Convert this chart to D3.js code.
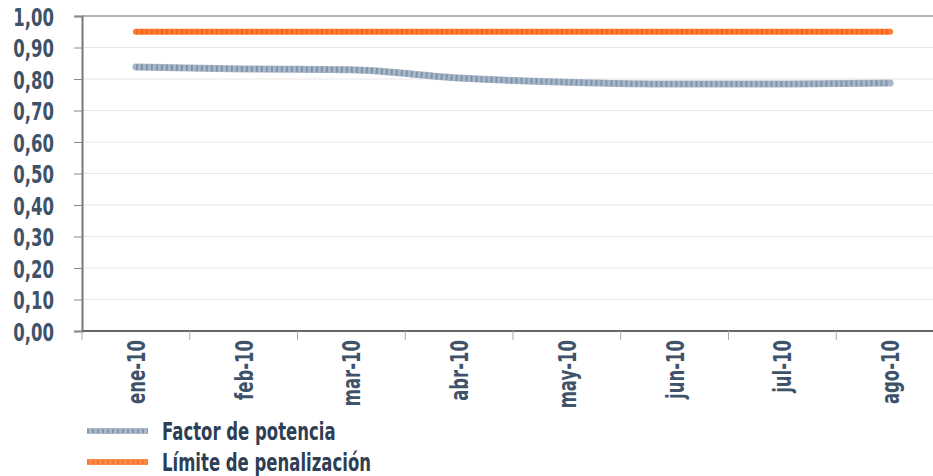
<!DOCTYPE html>
<html>
<head>
<meta charset="utf-8">
<script src="https://cdn.jsdelivr.net/npm/d3@7"></script>
<style>
  html, body { margin: 0; padding: 0; background: #fff; }
  svg { display: block; }
  text { font-family: "DejaVu Sans", sans-serif; font-weight: bold; }
</style>
</head>
<body>
<svg id="chart" width="933" height="476"></svg>
<script>
// Monthly data
const months = ["ene-10", "feb-10", "mar-10", "abr-10", "may-10", "jun-10", "jul-10", "ago-10"];
const factorPotencia = [0.838, 0.832, 0.829, 0.803, 0.790, 0.784, 0.784, 0.787];
const limitePenalizacion = [0.95, 0.95, 0.95, 0.95, 0.95, 0.95, 0.95, 0.95];
const yTicks = [0, 0.1, 0.2, 0.3, 0.4, 0.5, 0.6, 0.7, 0.8, 0.9, 1.0];
const seriesNames = ["Factor de potencia", "Límite de penalización"];

const svg = d3.select("#chart");
const plotLeft = 82, plotRight = 944, plotTop = 16, plotBottom = 331;
const textColor = "#3e5369";
const fontSize = 25, squeeze = 0.66;   // tall, condensed lettering

const x = d3.scaleBand().domain(months).range([plotLeft, plotRight]);
const y = d3.scaleLinear().domain([0, 1]).range([plotBottom, plotTop]);

const defs = svg.append("defs");
const f = defs.append("filter").attr("id", "soft")
  .attr("filterUnits", "userSpaceOnUse")
  .attr("x", 0).attr("y", 0).attr("width", 933).attr("height", 476);
f.append("feGaussianBlur").attr("stdDeviation", 0.5);

// grid lines
svg.append("g").selectAll("line").data(yTicks.filter(d => d > 0)).join("line")
  .attr("x1", plotLeft).attr("x2", 933)
  .attr("y1", d => y(d)).attr("y2", d => y(d))
  .attr("stroke", d => d === 1 ? "#9a9a9a" : "#e6e6e6")
  .attr("stroke-width", d => d === 1 ? 1.5 : 1);

// y axis
const yAxis = d3.axisLeft(y).tickValues(yTicks).tickSize(8).tickFormat("");
const gy = svg.append("g").attr("transform", `translate(${plotLeft},0)`).call(yAxis);
gy.select(".domain").attr("stroke", "#777").attr("stroke-width", 2);
gy.selectAll(".tick line").attr("stroke", "#888");
gy.selectAll(".tick").append("text")
  .attr("transform", `translate(-28,0) scale(${squeeze},1)`)
  .attr("dy", "0.36em")
  .attr("text-anchor", "end")
  .attr("fill", textColor).attr("font-size", fontSize)
  .text(d => d3.format(".2f")(d).replace(".", ","));

// x axis (ticks on category boundaries)
svg.append("line").attr("x1", plotLeft).attr("x2", 933).attr("y1", plotBottom).attr("y2", plotBottom)
  .attr("stroke", "#666").attr("stroke-width", 2);
svg.append("g").selectAll("line").data(months).join("line")
  .attr("x1", d => x(d)).attr("x2", d => x(d))
  .attr("y1", plotBottom).attr("y2", plotBottom + 9)
  .attr("stroke", "#aaa");
svg.append("g").selectAll("text").data(months).join("text")
  .attr("transform", d => `translate(${x(d) + x.bandwidth() / 2 + 9},${plotBottom + 9}) rotate(-90) scale(${squeeze},1)`)
  .attr("text-anchor", "end")
  .attr("fill", textColor).attr("font-size", fontSize)
  .text(d => d);

// series lines
const line = d3.line()
  .x((d, i) => x(months[i]) + x.bandwidth() / 2)
  .y(d => y(d))
  .curve(d3.curveMonotoneX);

function texturedLine(values, base, dash, width) {
  const g = svg.append("g").attr("filter", "url(#soft)");
  g.append("path").attr("d", line(values)).attr("fill", "none")
    .attr("stroke", base).attr("stroke-width", width).attr("stroke-linecap", "round");
  g.append("path").attr("d", line(values)).attr("fill", "none")
    .attr("stroke", dash).attr("stroke-width", width - 1)
    .attr("stroke-dasharray", "2 3").attr("opacity", 0.7);
}
texturedLine(factorPotencia, "#a9b8c8", "#6d83a0", 7);
texturedLine(limitePenalizacion, "#ff7a30", "#f05a10", 6);

// legend
const legend = [
  { name: seriesNames[0], base: "#a9b8c8", dash: "#6d83a0", y: 431 },
  { name: seriesNames[1], base: "#ff8a45", dash: "#f26a20", y: 462 }
];
const lg = svg.append("g").selectAll("g").data(legend).join("g");
lg.append("line").attr("x1", 87).attr("x2", 148).attr("y1", d => d.y).attr("y2", d => d.y)
  .attr("stroke", d => d.base).attr("stroke-width", 6);
lg.append("line").attr("x1", 87).attr("x2", 148).attr("y1", d => d.y).attr("y2", d => d.y)
  .attr("stroke", d => d.dash).attr("stroke-width", 4).attr("stroke-dasharray", "2 3").attr("opacity", 0.6);
lg.append("text")
  .attr("transform", d => `translate(162,${d.y + 9}) scale(${squeeze},1)`)
  .attr("fill", "#2e3f55").attr("font-size", fontSize)
  .text(d => d.name);
</script>
</body>
</html>
